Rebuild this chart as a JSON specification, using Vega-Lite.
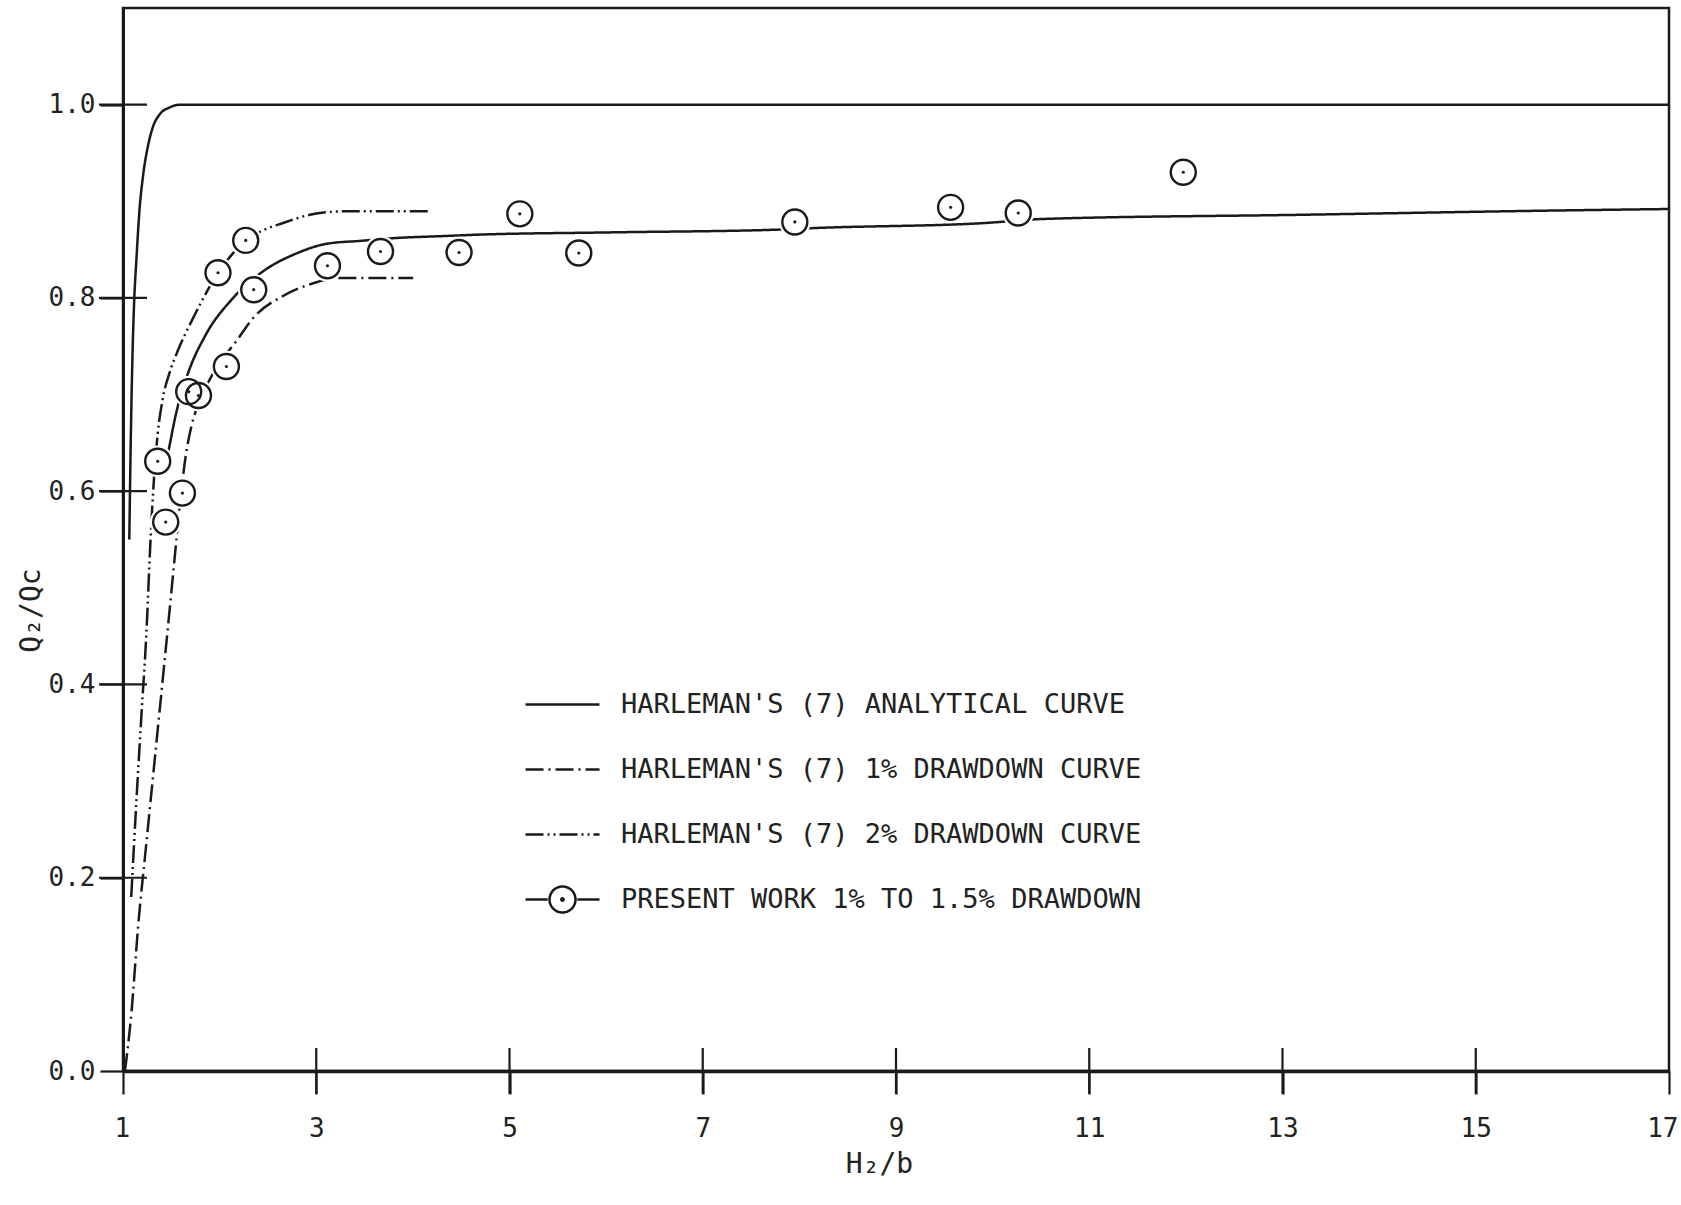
{
  "$schema": "https://vega.github.io/schema/vega-lite/v6.json",
  "width": 1546,
  "height": 1063,
  "autosize": {"type": "none"},
  "padding": {"left": 123, "top": 8, "right": 12, "bottom": 134},
  "background": "white",
  "config": {
    "view": {"stroke": "#1a1a1a", "strokeWidth": 2.5},
    "axis": {
      "labelFont": "DejaVu Sans Mono",
      "labelFontSize": 26,
      "labelColor": "#222222",
      "titleFont": "DejaVu Sans Mono",
      "titleFontSize": 28,
      "titleFontWeight": "normal",
      "titleColor": "#222222",
      "grid": false,
      "domainColor": "#1a1a1a",
      "tickColor": "#1a1a1a",
      "tickSize": 23,
      "tickWidth": 2.2,
      "labelFlush": false,
      "labelOverlap": false
    }
  },
  "datasets": {
    "curves": [
      {"series": "HARLEMAN'S (7) ANALYTICAL CURVE", "x": 1.065, "y": 0.55},
      {"series": "HARLEMAN'S (7) ANALYTICAL CURVE", "x": 1.08, "y": 0.65},
      {"series": "HARLEMAN'S (7) ANALYTICAL CURVE", "x": 1.097, "y": 0.736},
      {"series": "HARLEMAN'S (7) ANALYTICAL CURVE", "x": 1.115, "y": 0.795},
      {"series": "HARLEMAN'S (7) ANALYTICAL CURVE", "x": 1.139, "y": 0.84},
      {"series": "HARLEMAN'S (7) ANALYTICAL CURVE", "x": 1.17, "y": 0.89},
      {"series": "HARLEMAN'S (7) ANALYTICAL CURVE", "x": 1.207, "y": 0.926},
      {"series": "HARLEMAN'S (7) ANALYTICAL CURVE", "x": 1.26, "y": 0.958},
      {"series": "HARLEMAN'S (7) ANALYTICAL CURVE", "x": 1.31, "y": 0.977},
      {"series": "HARLEMAN'S (7) ANALYTICAL CURVE", "x": 1.38, "y": 0.99},
      {"series": "HARLEMAN'S (7) ANALYTICAL CURVE", "x": 1.48, "y": 0.997},
      {"series": "HARLEMAN'S (7) ANALYTICAL CURVE", "x": 1.6, "y": 1.0},
      {"series": "HARLEMAN'S (7) ANALYTICAL CURVE", "x": 17.0, "y": 1.0},

      {"series": "HARLEMAN'S (7) 1% DRAWDOWN CURVE", "x": 1.02, "y": 0.0},
      {"series": "HARLEMAN'S (7) 1% DRAWDOWN CURVE", "x": 1.087, "y": 0.06},
      {"series": "HARLEMAN'S (7) 1% DRAWDOWN CURVE", "x": 1.156, "y": 0.149},
      {"series": "HARLEMAN'S (7) 1% DRAWDOWN CURVE", "x": 1.242, "y": 0.236},
      {"series": "HARLEMAN'S (7) 1% DRAWDOWN CURVE", "x": 1.328, "y": 0.322},
      {"series": "HARLEMAN'S (7) 1% DRAWDOWN CURVE", "x": 1.414, "y": 0.408},
      {"series": "HARLEMAN'S (7) 1% DRAWDOWN CURVE", "x": 1.5, "y": 0.495},
      {"series": "HARLEMAN'S (7) 1% DRAWDOWN CURVE", "x": 1.553, "y": 0.55},
      {"series": "HARLEMAN'S (7) 1% DRAWDOWN CURVE", "x": 1.6, "y": 0.597},
      {"series": "HARLEMAN'S (7) 1% DRAWDOWN CURVE", "x": 1.65, "y": 0.637},
      {"series": "HARLEMAN'S (7) 1% DRAWDOWN CURVE", "x": 1.71, "y": 0.668},
      {"series": "HARLEMAN'S (7) 1% DRAWDOWN CURVE", "x": 1.8, "y": 0.695},
      {"series": "HARLEMAN'S (7) 1% DRAWDOWN CURVE", "x": 1.9, "y": 0.716},
      {"series": "HARLEMAN'S (7) 1% DRAWDOWN CURVE", "x": 2.0, "y": 0.733},
      {"series": "HARLEMAN'S (7) 1% DRAWDOWN CURVE", "x": 2.156, "y": 0.753},
      {"series": "HARLEMAN'S (7) 1% DRAWDOWN CURVE", "x": 2.363, "y": 0.781},
      {"series": "HARLEMAN'S (7) 1% DRAWDOWN CURVE", "x": 2.656, "y": 0.802},
      {"series": "HARLEMAN'S (7) 1% DRAWDOWN CURVE", "x": 2.933, "y": 0.814},
      {"series": "HARLEMAN'S (7) 1% DRAWDOWN CURVE", "x": 3.243, "y": 0.8206},
      {"series": "HARLEMAN'S (7) 1% DRAWDOWN CURVE", "x": 4.003, "y": 0.8206},

      {"series": "HARLEMAN'S (7) 2% DRAWDOWN CURVE", "x": 1.085, "y": 0.18},
      {"series": "HARLEMAN'S (7) 2% DRAWDOWN CURVE", "x": 1.139, "y": 0.28},
      {"series": "HARLEMAN'S (7) 2% DRAWDOWN CURVE", "x": 1.19, "y": 0.367},
      {"series": "HARLEMAN'S (7) 2% DRAWDOWN CURVE", "x": 1.242, "y": 0.453},
      {"series": "HARLEMAN'S (7) 2% DRAWDOWN CURVE", "x": 1.285, "y": 0.55},
      {"series": "HARLEMAN'S (7) 2% DRAWDOWN CURVE", "x": 1.32, "y": 0.612},
      {"series": "HARLEMAN'S (7) 2% DRAWDOWN CURVE", "x": 1.36, "y": 0.66},
      {"series": "HARLEMAN'S (7) 2% DRAWDOWN CURVE", "x": 1.41, "y": 0.695},
      {"series": "HARLEMAN'S (7) 2% DRAWDOWN CURVE", "x": 1.48, "y": 0.722},
      {"series": "HARLEMAN'S (7) 2% DRAWDOWN CURVE", "x": 1.57, "y": 0.746},
      {"series": "HARLEMAN'S (7) 2% DRAWDOWN CURVE", "x": 1.72, "y": 0.778},
      {"series": "HARLEMAN'S (7) 2% DRAWDOWN CURVE", "x": 1.86, "y": 0.805},
      {"series": "HARLEMAN'S (7) 2% DRAWDOWN CURVE", "x": 1.983, "y": 0.826},
      {"series": "HARLEMAN'S (7) 2% DRAWDOWN CURVE", "x": 2.12, "y": 0.844},
      {"series": "HARLEMAN'S (7) 2% DRAWDOWN CURVE", "x": 2.27, "y": 0.8595},
      {"series": "HARLEMAN'S (7) 2% DRAWDOWN CURVE", "x": 2.45, "y": 0.87},
      {"series": "HARLEMAN'S (7) 2% DRAWDOWN CURVE", "x": 2.656, "y": 0.8775},
      {"series": "HARLEMAN'S (7) 2% DRAWDOWN CURVE", "x": 2.933, "y": 0.886},
      {"series": "HARLEMAN'S (7) 2% DRAWDOWN CURVE", "x": 3.278, "y": 0.8896},
      {"series": "HARLEMAN'S (7) 2% DRAWDOWN CURVE", "x": 4.175, "y": 0.8896},

      {"series": "PRESENT WORK 1% TO 1.5% DRAWDOWN", "x": 1.43, "y": 0.62},
      {"series": "PRESENT WORK 1% TO 1.5% DRAWDOWN", "x": 1.47, "y": 0.641},
      {"series": "PRESENT WORK 1% TO 1.5% DRAWDOWN", "x": 1.553, "y": 0.682},
      {"series": "PRESENT WORK 1% TO 1.5% DRAWDOWN", "x": 1.673, "y": 0.722},
      {"series": "PRESENT WORK 1% TO 1.5% DRAWDOWN", "x": 1.863, "y": 0.763},
      {"series": "PRESENT WORK 1% TO 1.5% DRAWDOWN", "x": 2.122, "y": 0.798},
      {"series": "PRESENT WORK 1% TO 1.5% DRAWDOWN", "x": 2.449, "y": 0.8275},
      {"series": "PRESENT WORK 1% TO 1.5% DRAWDOWN", "x": 2.795, "y": 0.846},
      {"series": "PRESENT WORK 1% TO 1.5% DRAWDOWN", "x": 3.106, "y": 0.856},
      {"series": "PRESENT WORK 1% TO 1.5% DRAWDOWN", "x": 3.45, "y": 0.859},
      {"series": "PRESENT WORK 1% TO 1.5% DRAWDOWN", "x": 3.83, "y": 0.862},
      {"series": "PRESENT WORK 1% TO 1.5% DRAWDOWN", "x": 4.32, "y": 0.864},
      {"series": "PRESENT WORK 1% TO 1.5% DRAWDOWN", "x": 4.658, "y": 0.8654},
      {"series": "PRESENT WORK 1% TO 1.5% DRAWDOWN", "x": 6.04, "y": 0.8678},
      {"series": "PRESENT WORK 1% TO 1.5% DRAWDOWN", "x": 7.764, "y": 0.8706},
      {"series": "PRESENT WORK 1% TO 1.5% DRAWDOWN", "x": 8.16, "y": 0.8723},
      {"series": "PRESENT WORK 1% TO 1.5% DRAWDOWN", "x": 9.92, "y": 0.8775},
      {"series": "PRESENT WORK 1% TO 1.5% DRAWDOWN", "x": 10.525, "y": 0.8817},
      {"series": "PRESENT WORK 1% TO 1.5% DRAWDOWN", "x": 13.18, "y": 0.886},
      {"series": "PRESENT WORK 1% TO 1.5% DRAWDOWN", "x": 15.87, "y": 0.8905},
      {"series": "PRESENT WORK 1% TO 1.5% DRAWDOWN", "x": 17.0, "y": 0.892}
    ],
    "points": [
      {"x": 1.359, "y": 0.631},
      {"x": 1.442, "y": 0.568},
      {"x": 1.615, "y": 0.598},
      {"x": 1.68, "y": 0.703},
      {"x": 1.781, "y": 0.699},
      {"x": 1.983, "y": 0.826},
      {"x": 2.07, "y": 0.729},
      {"x": 2.27, "y": 0.8595},
      {"x": 2.353, "y": 0.8085},
      {"x": 3.116, "y": 0.8333},
      {"x": 3.665, "y": 0.848},
      {"x": 4.478, "y": 0.847},
      {"x": 5.107, "y": 0.887},
      {"x": 5.717, "y": 0.8465},
      {"x": 7.953, "y": 0.8786},
      {"x": 9.565, "y": 0.8937},
      {"x": 10.265, "y": 0.8879},
      {"x": 11.973, "y": 0.93}
    ],
    "xticks": [{"x": 3}, {"x": 5}, {"x": 7}, {"x": 9}, {"x": 11}, {"x": 13}, {"x": 15}],
    "yticks": [{"y": 0.2}, {"y": 0.4}, {"y": 0.6}, {"y": 0.8}, {"y": 1.0}]
  },
  "layer": [
    {
      "data": {"name": "curves"},
      "mark": {"type": "line", "strokeWidth": 2.5, "color": "#1a1a1a", "interpolate": "monotone", "strokeCap": "butt"},
      "encoding": {
        "x": {
          "field": "x", "type": "quantitative",
          "scale": {"domain": [1, 17], "nice": false, "zero": false},
          "axis": {"values": [1, 3, 5, 7, 9, 11, 13, 15, 17], "format": "d", "title": "H₂/b", "labelPadding": 21, "labelFlush": true, "labelFlushOffset": 9, "domainWidth": 3.5, "titleX": 756, "titleY": 101, "titleBaseline": "alphabetic", "titleAlign": "center"}
        },
        "y": {
          "field": "y", "type": "quantitative",
          "scale": {"domain": [0, 1.1], "nice": false, "zero": false},
          "axis": {"values": [0, 0.2, 0.4, 0.6, 0.8, 1.0], "format": ".1f", "title": "Q₂/Qc", "labelPadding": 5, "domainWidth": 3, "titleAngle": -90, "titleX": -84, "titleY": 602, "titleBaseline": "alphabetic", "titleAlign": "center"}
        },
        "strokeDash": {
          "field": "series", "type": "nominal",
          "scale": {
            "domain": ["HARLEMAN'S (7) ANALYTICAL CURVE", "HARLEMAN'S (7) 1% DRAWDOWN CURVE", "HARLEMAN'S (7) 2% DRAWDOWN CURVE", "PRESENT WORK 1% TO 1.5% DRAWDOWN"],
            "range": [[1, 0], [18, 5, 2, 5], [18, 4, 2, 4, 2, 4], [1, 0]]
          },
          "legend": {
            "title": null,
            "orient": "none",
            "legendX": 418,
            "legendY": 675,
            "padding": 0,
            "symbolSize": 1600,
            "symbolType": "M-1.85,0H1.85",
            "symbolStrokeWidth": 2.5,
            "symbolStrokeColor": "#1a1a1a",
            "symbolFillColor": "transparent",
            "labelFont": "DejaVu Sans Mono",
            "labelFontSize": 27,
            "labelColor": "#222222",
            "labelOffset": 37,
            "labelLimit": 0,
            "rowPadding": 30,
            "encode": {
              "symbols": {
                "update": {
                  "shape": {"signal": "datum.value === 'PRESENT WORK 1% TO 1.5% DRAWDOWN' ? 'M-1.85,0H-0.74M0.74,0H1.85M-0.65,0A0.65,0.65,0,1,1,0.65,0A0.65,0.65,0,1,1,-0.65,0ZM-0.06,0A0.06,0.06,0,1,1,0.06,0A0.06,0.06,0,1,1,-0.06,0Z' : 'M-1.85,0H1.85'"},
                  "fill": {"value": "transparent"}
                }
              }
            }
          }
        }
      }
    },
    {
      "data": {"name": "points"},
      "mark": {"type": "point", "shape": "circle", "filled": true, "color": "white", "size": 1000, "strokeWidth": 0, "opacity": 1},
      "encoding": {
        "x": {"field": "x", "type": "quantitative"},
        "y": {"field": "y", "type": "quantitative"}
      }
    },
    {
      "data": {"name": "points"},
      "mark": {"type": "point", "shape": "circle", "filled": false, "color": "#1a1a1a", "size": 625, "strokeWidth": 2.4, "opacity": 1},
      "encoding": {
        "x": {"field": "x", "type": "quantitative"},
        "y": {"field": "y", "type": "quantitative"}
      }
    },
    {
      "data": {"name": "points"},
      "mark": {"type": "point", "shape": "circle", "filled": true, "color": "#1a1a1a", "size": 10, "opacity": 1},
      "encoding": {
        "x": {"field": "x", "type": "quantitative"},
        "y": {"field": "y", "type": "quantitative"}
      }
    },
    {
      "data": {"name": "xticks"},
      "mark": {"type": "tick", "orient": "vertical", "size": 46, "thickness": 2.2, "color": "#1a1a1a", "opacity": 1},
      "encoding": {
        "x": {"field": "x", "type": "quantitative"},
        "y": {"datum": 0}
      }
    },
    {
      "data": {"name": "yticks"},
      "mark": {"type": "tick", "orient": "horizontal", "size": 48, "thickness": 2.2, "color": "#1a1a1a", "opacity": 1},
      "encoding": {
        "y": {"field": "y", "type": "quantitative"},
        "x": {"datum": 1}
      }
    }
  ]
}
